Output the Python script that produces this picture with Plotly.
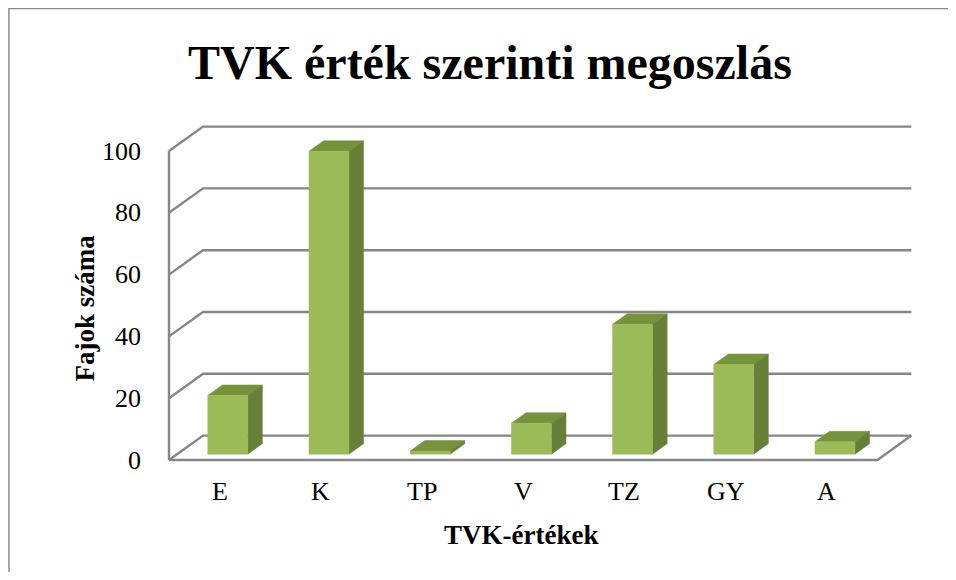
import plotly.graph_objects as go

# ---- data ----
categories = ["E", "K", "TP", "V", "TZ", "GY", "A"]
values = [19, 98, 1, 10, 42, 29, 4]
y_ticks = [0, 20, 40, 60, 80, 100]

title_text = "TVK érték szerinti megoszlás"
x_title = "TVK-értékek"
y_title = "Fajok száma"

# ---- pseudo-3D geometry (in data units) ----
DX, DY = 0.336, 7.9          # depth offset of back wall
X0, X1 = -0.5, len(categories) - 0.5
BAR_W = 0.395
D_FRONT, D_BACK = 0.24, 0.67  # bar depth position (fraction of depth)

FRONT = "#9BBB59"
TOP = "#76923C"
SIDE = "#66803A"
GRID = "#868686"
FONT = "Liberation Serif, Times New Roman, serif"

fig = go.Figure()

def line(xs, ys):
    fig.add_trace(go.Scatter(x=xs, y=ys, mode="lines",
                             line=dict(color=GRID, width=2.4),
                             hoverinfo="skip", showlegend=False))

def poly(xs, ys, color):
    fig.add_trace(go.Scatter(x=xs + [xs[0]], y=ys + [ys[0]], mode="lines",
                             fill="toself", fillcolor=color,
                             line=dict(color=color, width=0.5),
                             hoverinfo="skip", showlegend=False))

# back wall gridlines + left side wall diagonals
for t in y_ticks:
    line([X0, X0 + DX, X1 + DX], [t, t + DY, t + DY])
# front left vertical axis
line([X0, X0], [y_ticks[0], y_ticks[-1]])
# floor front edge and right edge
line([X0, X1, X1 + DX], [0, 0, DY])

# bars
for i, v in enumerate(values):
    ox, oy = D_FRONT * DX, D_FRONT * DY
    bx, by = D_BACK * DX, D_BACK * DY
    xl = i - BAR_W / 2 + ox
    xr = i + BAR_W / 2 + ox
    y0 = oy
    y1 = v + oy
    ddx, ddy = bx - ox, by - oy
    poly([xl, xr, xr + ddx, xl + ddx], [y1, y1, y1 + ddy, y1 + ddy], TOP)
    poly([xr, xr + ddx, xr + ddx, xr], [y0, y0 + ddy, y1 + ddy, y1], SIDE)
    poly([xl, xr, xr, xl], [y0, y0, y1, y1], FRONT)

annotations = []
for t in y_ticks:
    annotations.append(dict(x=X0 - 0.257, y=t, xref="x", yref="y", text=str(t),
                            showarrow=False, xanchor="right", yanchor="middle",
                            font=dict(family=FONT, size=26, color="black")))
for i, c in enumerate(categories):
    annotations.append(dict(x=i, y=-10.3, xref="x", yref="y", text=c,
                            showarrow=False, xanchor="center", yanchor="middle",
                            font=dict(family=FONT, size=26, color="black")))
annotations.append(dict(x=2.98, y=-24.2, xref="x", yref="y", text="<b>" + x_title + "</b>",
                        showarrow=False, xanchor="center", yanchor="middle",
                        font=dict(family=FONT, size=27, color="black")))
annotations.append(dict(x=-1.33, y=49, xref="x", yref="y", text="<b>" + y_title + "</b>",
                        showarrow=False, xanchor="center", yanchor="middle", textangle=-90,
                        font=dict(family=FONT, size=27, color="black")))
annotations.append(dict(x=0.513, y=0.904, xref="paper", yref="paper", text="<b>" + title_text + "</b>",
                        showarrow=False, xanchor="center", yanchor="middle",
                        font=dict(family=FONT, size=48, color="black")))

# page offset of 8px (body margin); page px: u -> 219.6 + 101.2u ; v -> 460 - 3.09v
W, H = 940, 564
xr_ = [(0 - 211.6) / 101.2, (W - 211.6) / 101.2]
yr_ = [(452 - H) / 3.09, 452 / 3.09]

fig.update_layout(
    width=W, height=H,
    margin=dict(l=0, r=0, t=0, b=0),
    paper_bgcolor="white", plot_bgcolor="white",
    xaxis=dict(range=xr_, visible=False, fixedrange=True),
    yaxis=dict(range=yr_, visible=False, fixedrange=True),
    annotations=annotations,
    shapes=[dict(type="rect", xref="paper", yref="paper", x0=0.001, y0=-0.05, x1=1.05, y1=0.999,
                 line=dict(color="#8C8C8C", width=1.5))],
    showlegend=False,
)

fig.write_html("out.html")
